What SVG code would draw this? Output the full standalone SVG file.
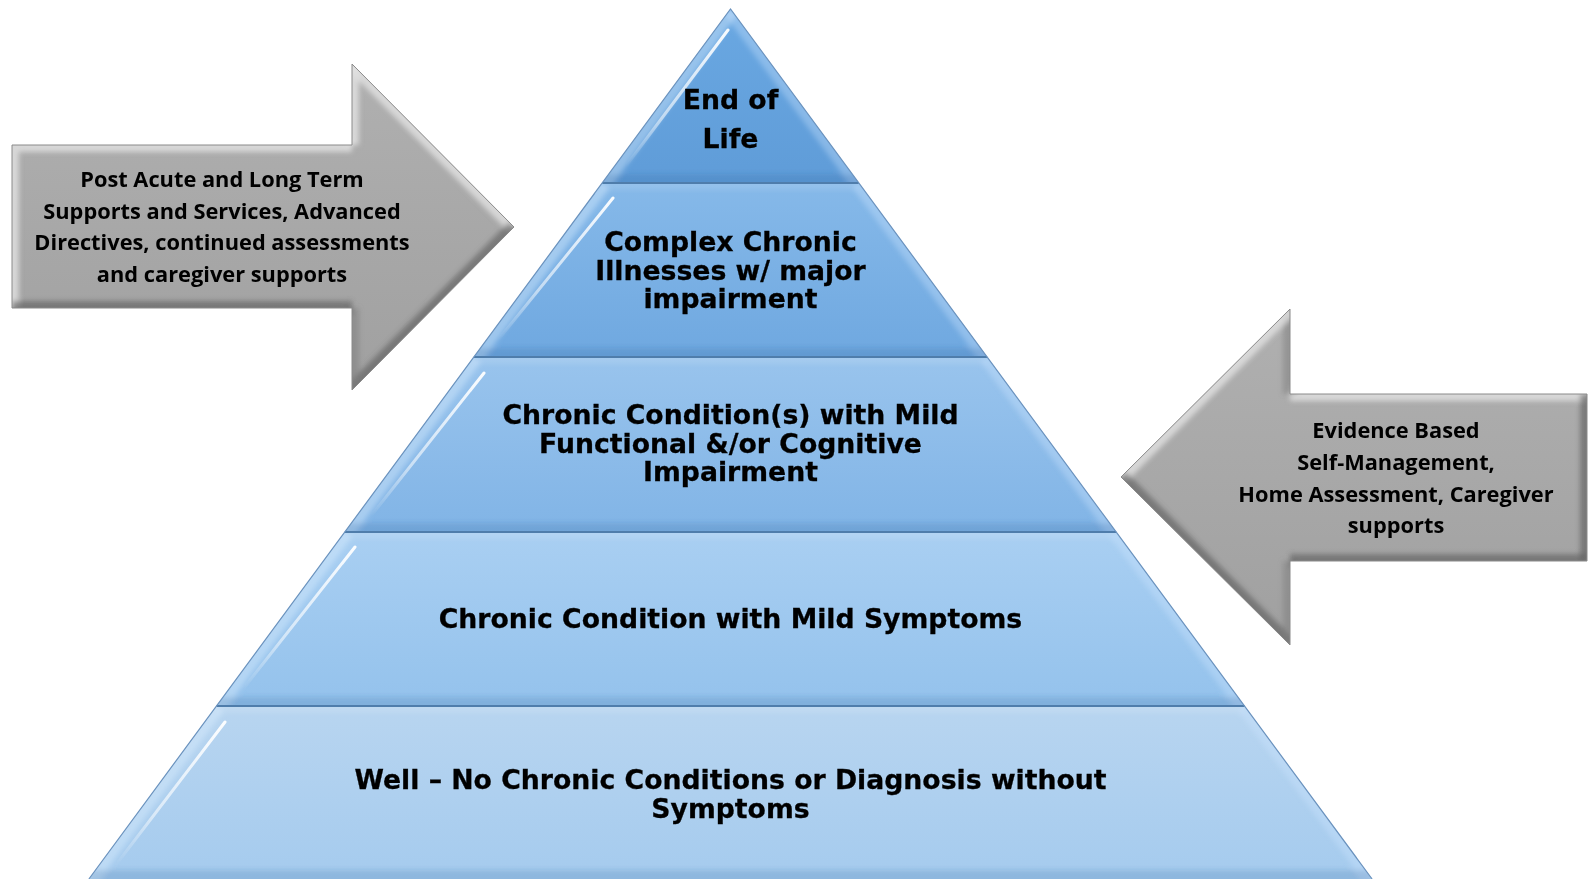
<svg xmlns="http://www.w3.org/2000/svg" width="1588" height="879" viewBox="0 0 1588 879">
<style>
.pt{font-family:"DejaVu Sans",Verdana,sans-serif;font-weight:bold;font-size:26.7px;fill:#000;stroke:#000;stroke-width:0.3;text-anchor:middle}
.at{font-family:"Open Sans",Lato,sans-serif;font-weight:bold;font-size:21.8px;fill:#000;text-anchor:middle}
.sep{stroke:#4f7dab;stroke-width:2;fill:none}
.outline{stroke:#6a92bd;stroke-width:1.2;fill:none}
.hl{stroke:#dff1ff;stroke-width:18;fill:none;opacity:.4}
.hr{stroke:#cfe6ff;stroke-width:16;fill:none;opacity:.35}
.sh{stroke:#2d5f94;stroke-width:18;fill:none;opacity:.18}
.ht{stroke:#ffffff;stroke-width:14;fill:none;opacity:.12}
.streak{stroke:url(#streak);stroke-width:3;fill:none;stroke-linecap:round}
.ag{fill:url(#grey)}
.alt{stroke:#e2e2e2;stroke-width:14;fill:none;opacity:.8}
.adk{stroke:#5c5c5c;stroke-width:14;fill:none;opacity:.6}
.amd{stroke:#7d7d7d;stroke-width:14;fill:none;opacity:.5}
.aol{stroke:#8a8a8a;stroke-width:1;fill:none}
</style>
<defs>
<filter id="soft" x="-5%" y="-5%" width="110%" height="110%"><feGaussianBlur stdDeviation="2.5"/></filter>
<linearGradient id="streak" x1="0" y1="1" x2="1" y2="0">
<stop offset="0" stop-color="#ffffff" stop-opacity="0"/>
<stop offset="0.35" stop-color="#ffffff" stop-opacity="0.55"/>
<stop offset="1" stop-color="#ffffff" stop-opacity="0.95"/>
</linearGradient>
<linearGradient id="g1" x1="0" y1="0" x2="0" y2="1"><stop offset="0" stop-color="#6aa8e2"/><stop offset="1" stop-color="#5f9cd8"/></linearGradient>
<linearGradient id="g2" x1="0" y1="0" x2="0" y2="1"><stop offset="0" stop-color="#86b9e9"/><stop offset="1" stop-color="#6fa8e0"/></linearGradient>
<linearGradient id="g3" x1="0" y1="0" x2="0" y2="1"><stop offset="0" stop-color="#99c4ed"/><stop offset="1" stop-color="#81b4e6"/></linearGradient>
<linearGradient id="g4" x1="0" y1="0" x2="0" y2="1"><stop offset="0" stop-color="#a9cff2"/><stop offset="1" stop-color="#94c2ec"/></linearGradient>
<linearGradient id="g5" x1="0" y1="0" x2="0" y2="1"><stop offset="0" stop-color="#b8d5f0"/><stop offset="1" stop-color="#a5cbee"/></linearGradient>
<linearGradient id="grey" x1="0" y1="0" x2="0" y2="1"><stop offset="0" stop-color="#b0b0b0"/><stop offset="1" stop-color="#a0a0a0"/></linearGradient>
<clipPath id="c1"><polygon points="730.5,9 602.2,183 858.8,183"/></clipPath>
<clipPath id="c2"><polygon points="602.2,183 858.8,183 987.15,357 473.85,357"/></clipPath>
<clipPath id="c3"><polygon points="473.85,357 987.15,357 1116.2,532 344.8,532"/></clipPath>
<clipPath id="c4"><polygon points="344.8,532 1116.2,532 1244.5,706 216.5,706"/></clipPath>
<clipPath id="c5"><polygon points="216.5,706 1244.5,706 1372.1,879 88.9,879"/></clipPath>
<clipPath id="ca1"><polygon points="12,145 352,145 352,64 514,227 352,390 352,308 12,308"/></clipPath>
<clipPath id="ca2"><polygon points="1587,394 1290,394 1290,309 1121,477 1290,645 1290,561 1587,561"/></clipPath>
</defs>

<g id="arrow-left">
<polygon class="ag" points="12,145 352,145 352,64 514,227 352,390 352,308 12,308"/>
<g clip-path="url(#ca1)" filter="url(#soft)">
<polyline class="alt" points="12,308 12,145 352,145"/>
<line class="alt" x1="352" y1="145" x2="352" y2="64"/>
<line class="alt" x1="352" y1="64" x2="514" y2="227"/>
<line class="adk" x1="514" y1="227" x2="352" y2="390"/>
<line class="amd" x1="352" y1="390" x2="352" y2="308"/>
<line class="adk" x1="352" y1="308" x2="12" y2="308"/>
</g>
<polygon class="aol" points="12,145 352,145 352,64 514,227 352,390 352,308 12,308"/>
<text class="at" x="222" y="187">Post Acute and Long Term</text>
<text class="at" x="222" y="218.5">Supports and Services, Advanced</text>
<text class="at" x="222" y="250">Directives, continued assessments</text>
<text class="at" x="222" y="281.5">and caregiver supports</text>
</g>

<g id="arrow-right">
<polygon class="ag" points="1587,394 1290,394 1290,309 1121,477 1290,645 1290,561 1587,561"/>
<g clip-path="url(#ca2)" filter="url(#soft)">
<line class="alt" x1="1587" y1="394" x2="1290" y2="394"/>
<line class="amd" x1="1290" y1="394" x2="1290" y2="309"/>
<line class="alt" x1="1290" y1="309" x2="1121" y2="477"/>
<line class="adk" x1="1121" y1="477" x2="1290" y2="645"/>
<line class="amd" x1="1290" y1="645" x2="1290" y2="561"/>
<line class="adk" x1="1290" y1="561" x2="1587" y2="561"/>
<line class="adk" x1="1587" y1="561" x2="1587" y2="394"/>
</g>
<polygon class="aol" points="1587,394 1290,394 1290,309 1121,477 1290,645 1290,561 1587,561"/>
<text class="at" x="1396" y="438">Evidence Based</text>
<text class="at" x="1396" y="470">Self-Management,</text>
<text class="at" x="1396" y="502">Home Assessment, Caregiver</text>
<text class="at" x="1396" y="533">supports</text>
</g>

<g id="level-1">
<polygon fill="url(#g1)" points="730.5,9 602.2,183 858.8,183"/>
<g clip-path="url(#c1)" filter="url(#soft)">
<line class="hl" x1="730.5" y1="9" x2="602.2" y2="183"/>
<line class="hr" x1="730.5" y1="9" x2="858.8" y2="183"/>
<line class="sh" x1="602.2" y1="183" x2="858.8" y2="183"/>
</g>
<line class="streak" x1="626" y1="166" x2="728" y2="30"/>
<text class="pt" x="730.5" y="109">End of</text>
<text class="pt" x="730.5" y="148">Life</text>
</g>

<g id="level-2">
<polygon fill="url(#g2)" points="602.2,183 858.8,183 987.15,357 473.85,357"/>
<g clip-path="url(#c2)" filter="url(#soft)">
<line class="ht" x1="602.2" y1="183" x2="858.8" y2="183"/>
<line class="hl" x1="602.2" y1="183" x2="473.85" y2="357"/>
<line class="hr" x1="858.8" y1="183" x2="987.15" y2="357"/>
<line class="sh" x1="473.85" y1="357" x2="987.15" y2="357"/>
</g>
<line class="streak" x1="498" y1="340" x2="613" y2="198"/>
<text class="pt" x="730.5" y="251">Complex Chronic</text>
<text class="pt" x="730.5" y="280">Illnesses w/ major</text>
<text class="pt" x="730.5" y="308">impairment</text>
</g>

<g id="level-3">
<polygon fill="url(#g3)" points="473.85,357 987.15,357 1116.2,532 344.8,532"/>
<g clip-path="url(#c3)" filter="url(#soft)">
<line class="ht" x1="473.85" y1="357" x2="987.15" y2="357"/>
<line class="hl" x1="473.85" y1="357" x2="344.8" y2="532"/>
<line class="hr" x1="987.15" y1="357" x2="1116.2" y2="532"/>
<line class="sh" x1="344.8" y1="532" x2="1116.2" y2="532"/>
</g>
<line class="streak" x1="371" y1="516" x2="484" y2="373"/>
<text class="pt" x="730.5" y="424">Chronic Condition(s) with Mild</text>
<text class="pt" x="730.5" y="453">Functional &amp;/or Cognitive</text>
<text class="pt" x="730.5" y="481">Impairment</text>
</g>

<g id="level-4">
<polygon fill="url(#g4)" points="344.8,532 1116.2,532 1244.5,706 216.5,706"/>
<g clip-path="url(#c4)" filter="url(#soft)">
<line class="ht" x1="344.8" y1="532" x2="1116.2" y2="532"/>
<line class="hl" x1="344.8" y1="532" x2="216.5" y2="706"/>
<line class="hr" x1="1116.2" y1="532" x2="1244.5" y2="706"/>
<line class="sh" x1="216.5" y1="706" x2="1244.5" y2="706"/>
</g>
<line class="streak" x1="243" y1="689" x2="355" y2="547"/>
<text class="pt" x="730.5" y="628">Chronic Condition with Mild Symptoms</text>
</g>

<g id="level-5">
<polygon fill="url(#g5)" points="216.5,706 1244.5,706 1372.1,879 88.9,879"/>
<g clip-path="url(#c5)" filter="url(#soft)">
<line class="ht" x1="216.5" y1="706" x2="1244.5" y2="706"/>
<line class="hl" x1="216.5" y1="706" x2="88.9" y2="879"/>
<line class="hr" x1="1244.5" y1="706" x2="1372.1" y2="879"/>
<line class="sh" x1="88.9" y1="879" x2="1372.1" y2="879"/>
</g>
<line class="streak" x1="115" y1="866" x2="225" y2="722"/>
<text class="pt" x="730.5" y="789">Well – No Chronic Conditions or Diagnosis without</text>
<text class="pt" x="730.5" y="818">Symptoms</text>
</g>

<g id="connectors">
<line class="sep" x1="602.2" y1="183" x2="858.8" y2="183"/>
<line class="sep" x1="473.85" y1="357" x2="987.15" y2="357"/>
<line class="sep" x1="344.8" y1="532" x2="1116.2" y2="532"/>
<line class="sep" x1="216.5" y1="706" x2="1244.5" y2="706"/>
<polyline class="outline" points="88.9,879 730.5,9 1372.1,879"/>
</g>
</svg>
